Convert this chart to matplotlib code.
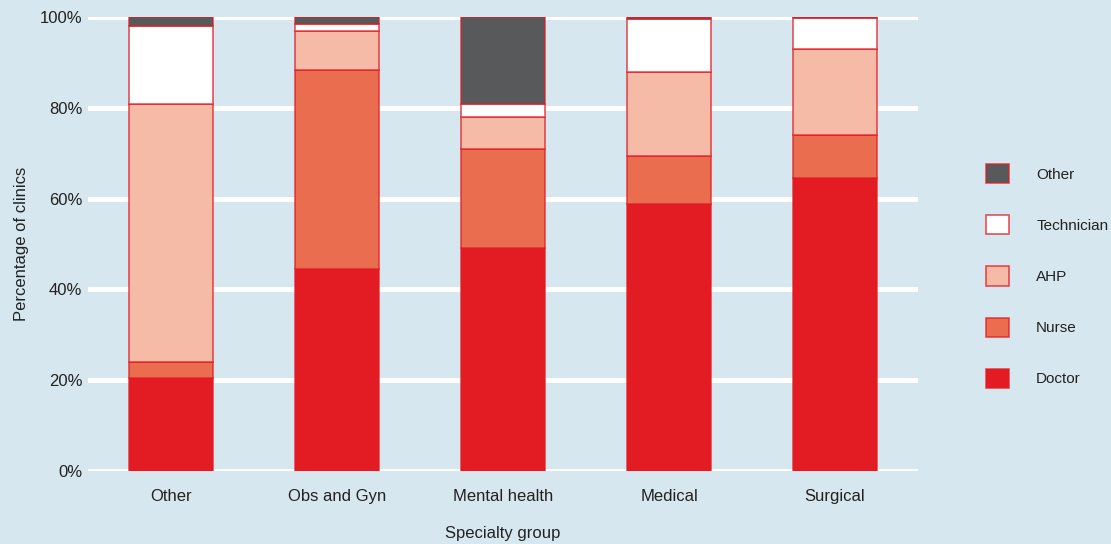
import matplotlib
matplotlib.use("Agg")
import matplotlib.pyplot as plt
import numpy as np
from matplotlib.patches import Patch

categories = ["Other", "Obs and Gyn", "Mental health", "Medical", "Surgical"]
series_names = ["Doctor", "Nurse", "AHP", "Technician", "Other"]
doctor = [20.5, 44.5, 49.1, 58.8, 64.5]
nurse = [3.5, 43.8, 21.8, 10.6, 9.5]
ahp = [56.8, 8.7, 7.1, 18.4, 19.0]
technician = [17.2, 1.5, 2.8, 11.8, 6.8]
other = [2.0, 1.5, 19.2, 0.4, 0.2]
yticks = [0, 20, 40, 60, 80, 100]
ytick_labels = ["0%", "20%", "40%", "60%", "80%", "100%"]

colors = ["#E31B23", "#EA6D50", "#F6BBA6", "#FFFFFF", "#58595B"]
edge = (0.89, 0.10, 0.14, 0.75)
bg = "#D7E7EF"

plt.rcParams['font.family'] = ['Liberation Sans', 'DejaVu Sans']

fig = plt.figure(figsize=(11.11, 5.44), dpi=100, facecolor=bg)
ax = fig.add_axes([88/1111, 1-471/544, 830/1111, 454/544], facecolor=bg)

x = np.arange(len(categories))
bottom = np.zeros(len(categories))
all_series = [doctor, nurse, ahp, technician, other]
for name, vals, col in zip(series_names, all_series, colors):
    ax.bar(x, vals, width=0.506, bottom=bottom, color=col, edgecolor=edge,
           linewidth=1.2, zorder=3, label=name)
    bottom += np.array(vals)

ax.set_xlim(-0.5, 4.5)
ax.set_ylim(0, 100)
ax.set_yticks(yticks)
ax.set_yticklabels(ytick_labels)
ax.set_xticks(x)
ax.set_xticklabels(categories)
ax.tick_params(axis='both', length=0, labelsize=12, colors="#222222")
ax.tick_params(axis='x', pad=13)
ax.tick_params(axis='y', pad=4)
ax.grid(axis='y', color='white', linewidth=3.5, zorder=0)
ax.set_axisbelow(True)
for s in ax.spines.values():
    s.set_visible(False)
ax.set_ylabel("Percentage of clinics", fontsize=12, color="#222222", labelpad=8)
ax.set_xlabel("Specialty group", fontsize=12, color="#222222", labelpad=16)

handles = [Patch(facecolor=c, edgecolor=edge, linewidth=1.2) for c in colors]
leg = fig.legend(handles[::-1], series_names[::-1], loc='center left',
                 bbox_to_anchor=(972/1111, 1-276/544), frameon=False,
                 fontsize=11, handlelength=1.55, handleheight=1.55,
                 labelspacing=2.1, handletextpad=1.75, labelcolor="#222222",
                 borderpad=0.4)

fig.savefig("out.png", dpi=100, facecolor=bg)
